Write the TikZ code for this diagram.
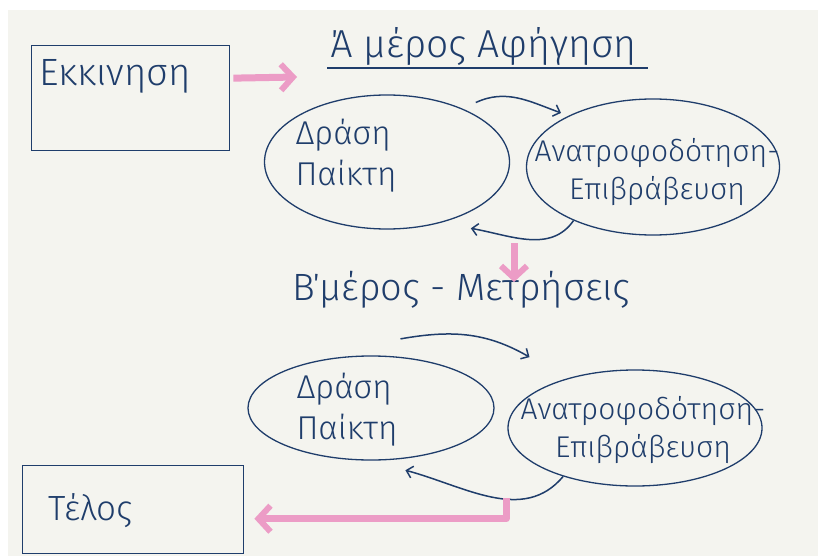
\documentclass[tikz,border=0pt]{standalone}
\usepackage{fontspec}
\setmainfont{Fira Sans Light}
\usepackage{xcolor}
\usetikzlibrary{shapes.geometric,arrows.meta}
\definecolor{ink}{HTML}{1F3D6B}
\definecolor{marker}{HTML}{EC9CC6}
\definecolor{paper}{HTML}{F4F4EF}
\newcommand{\hand}[1]{\fontsize{#1}{1.25\dimexpr#1pt\relax}\selectfont}

\begin{document}
\begin{tikzpicture}[x=1pt,y=-1pt,every node/.style={text=ink,align=left},
    box/.style={draw=ink,line width=1.4pt,shape=rectangle,anchor=north west,inner ysep=0pt},
    oval/.style={draw=ink,line width=1.3pt,shape=ellipse,inner sep=0pt},
    loop/.style={draw=ink,line width=1.5pt,-{Straight Barb[length=6pt,width=12pt]}},
    pinkarrow/.style={draw=marker,line width=7pt,line join=round,-{Straight Barb[length=12pt,width=26pt,line width=6pt]}}]
  \useasboundingbox (0,0) rectangle (818,556);
  \fill[white] (0,0) rectangle (830,570);
  \fill[paper] (8,10) rectangle (830,570);

  % boxes and headings
  \node[box,text width=182pt,inner xsep=8pt,text height=40pt,text depth=65pt,font=\hand{38}] (start) at (31,45) {Εκκινηση};
  \node[box,text width=169pt,inner xsep=26pt,text height=55pt,text depth=33pt,font=\hand{35}] (end) at (22,465) {Τέλος};
  \node[anchor=base west,inner sep=0pt,font=\hand{39}] (partA) at (330,58) {Ά μέρος Αφήγηση};
  \draw[ink,line width=1.4pt] ([xshift=-3pt,yshift=-10pt]partA.base west) -- ++(321,0);
  \node[anchor=base,inner sep=0pt,font=\hand{38}] (partB) at (461,300) {Β΄μέρος - Μετρήσεις};

  % first loop
  \node[oval,minimum width=245pt,minimum height=134pt,label={[xshift=-41pt,yshift=6pt,font=\hand{33}]center:Δράση\\Παίκτη}] (e1) at (387,162) {};
  \node[oval,minimum width=253pt,minimum height=136pt,label={[xshift=4pt,yshift=-5pt,align=center,font=\hand{30}]center:Ανατροφοδότηση-\\Επιβράβευση}] (e2) at (653,167) {};
  \draw[loop] ([shift={(11pt,7pt)}]e1.34) to[out=25,in=160] ([shift={(-7pt,3pt)}]e2.149);
  \draw[loop] (e2.214) to[out=-125,in=-10] ([shift={(13pt,-11pt)}]e1.-38);

  % second loop
  \node[oval,minimum width=246pt,minimum height=104pt,label={[xshift=-24pt,yshift=-2pt,font=\hand{33}]center:Δράση\\Παίκτη}] (e3) at (371,408) {};
  \node[oval,minimum width=254pt,minimum height=116pt,label={[xshift=8pt,yshift=-2pt,align=center,font=\hand{30}]center:Ανατροφοδότηση-\\Επιβράβευση}] (e4) at (635,428) {};
  \draw[loop] ([yshift=18pt]e3.60) to[out=10,in=150] ([shift={(-26pt,25pt)}]e4.150);
  \draw[loop] (e4.214) to[out=-130,in=-15] ([shift={(6pt,-11pt)}]e3.-61);

  % pink marker arrows
  \coordinate (goA) at (297,77);
  \coordinate (dnA) at (514,243);
  \coordinate (dnB) at (514,282);
  \coordinate (fin) at (506,498);
  \draw[pinkarrow,shorten <=3pt] ([yshift=20pt]start.east) -- (goA);
  \draw[pinkarrow] (dnA) -- (dnB);
  \draw[pinkarrow,shorten >=10pt] (fin) |- ([yshift=-9pt]end.east);
\end{tikzpicture}
\end{document}
